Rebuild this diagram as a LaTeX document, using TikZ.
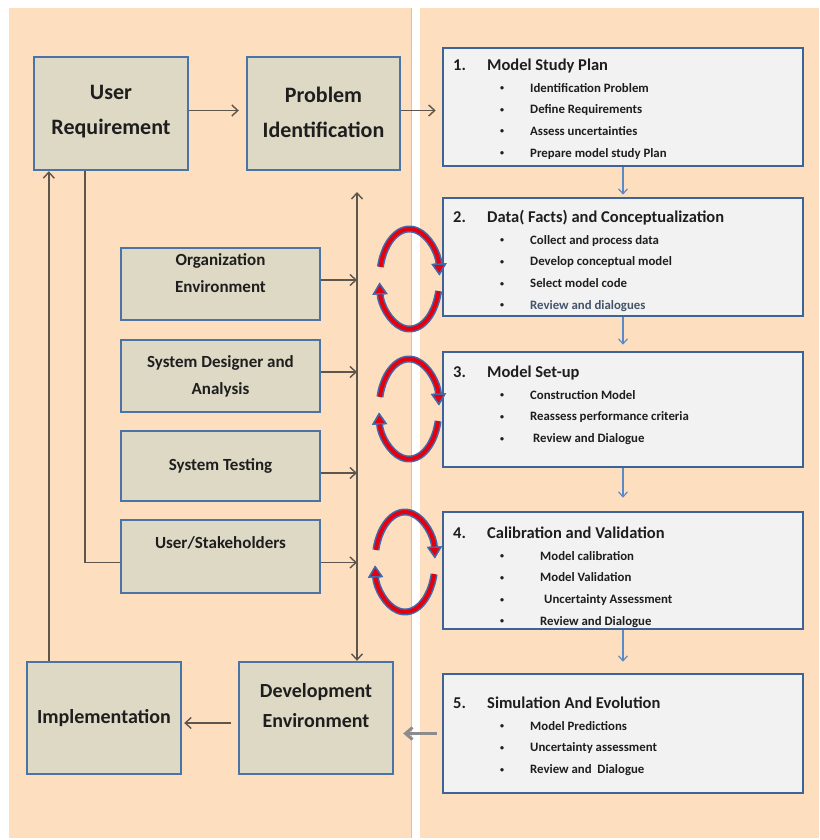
\documentclass[tikz,border=0pt]{standalone}
\usepackage{fontspec}
\setmainfont{Carlito}
\usetikzlibrary{arrows.meta}

\definecolor{panel}{HTML}{FDDFC0}
\definecolor{paneledge}{HTML}{E3BFA0}
\definecolor{boxfill}{HTML}{DDD9C4}
\definecolor{boxline}{HTML}{4A73A6}
\definecolor{stepfill}{HTML}{F2F2F2}
\definecolor{stepline}{HTML}{3D6498}
\definecolor{linkcol}{HTML}{5E554C}
\definecolor{flowcol}{HTML}{5B8AC6}
\definecolor{loopred}{HTML}{E3000F}
\definecolor{loopblue}{HTML}{3F6AAE}
\definecolor{txt}{HTML}{1E1E1E}
\definecolor{softtxt}{HTML}{44546A}

\newcommand{\mtitle}[2]{\fontsize{16.5}{21.7}\selectfont\makebox[34pt][l]{#1}#2}
\newcommand{\mdot}{\raisebox{1.6pt}{\fontsize{8}{8}\selectfont\textbullet}}
\newcommand{\mitem}[2][30pt]{\hspace*{47pt}\makebox[#1][l]{\mdot}#2}

\begin{document}
\begin{tikzpicture}[x=1pt,y=-1pt,
  block/.style={draw=boxline,fill=boxfill,line width=2.4pt,inner sep=0pt},
  bigtext/.style={font={\bfseries\fontsize{22}{35}\selectfont},text=txt,align=center,inner sep=0pt},
  midtext/.style={font={\bfseries\fontsize{20}{30}\selectfont},text=txt,align=center,inner sep=0pt},
  smalltext/.style={font={\bfseries\fontsize{17}{27}\selectfont},text=txt,align=center,inner sep=0pt},
  stage/.style={draw=stepline,fill=stepfill,line width=2.6pt,minimum width=360pt,minimum height=118pt,inner sep=0pt},
  stagetext/.style={font={\bfseries\fontsize{12.8}{21.7}\selectfont},text=txt,inner sep=0pt,anchor=base west},
  link/.style={draw=linkcol,line width=1.4pt},
  flow/.style={draw=flowcol,line width=1.2pt,-{Straight Barb[length=5pt,width=9pt]}},
  >={Straight Barb[length=6pt,width=11pt]}]
			\useasboundingbox (0,0) rectangle (819,840);
			\fill[white] (0,0) rectangle (819,840);
			\fill[panel] (9,8) rectangle (412,838);
			\draw[paneledge,line width=1.5pt] (411.5,8) -- (411.5,838);
			\fill[panel] (420,8) rectangle (819,838);

			% left side
			\node[block,minimum width=154pt,minimum height=113pt] (ureq) at (111,113.5) {};
			\node[block,minimum width=153pt,minimum height=113pt] (preq) at (323.5,113.5) {};
			\node[block,minimum width=199pt,minimum height=72pt] (org) at (220.5,284) {};
			\node[block,minimum width=199pt,minimum height=72pt] (sysd) at (220.5,376) {};
			\node[block,minimum width=199pt,minimum height=70pt] (syst) at (220.5,466) {};
			\node[block,minimum width=199pt,minimum height=73pt] (stake) at (220.5,556.5) {};
			\node[block,minimum width=154pt,minimum height=112pt] (impl) at (104,718) {};
			\node[block,minimum width=154pt,minimum height=112pt] (deve) at (316,718) {};

			\node[bigtext] (ureqt) at (111,112) {User\\Requirement};
			\node[bigtext] (preqt) at (323.5,112) {Problem\\Identification};
			\node[smalltext] (orgt) at (220.5,273) {Organization\\Environment};
			\node[smalltext] (sysdt) at (220.5,376) {System Designer and\\Analysis};
			\node[smalltext] (systt) at (220.5,466) {System Testing};
			\node[smalltext] (staket) at (220.5,543) {User/Stakeholders};
			\node[midtext] (implt) at (104,718) {Implementation};
			\node[midtext] (devet) at (316,706) {Development\\Environment};

			% right side
			\node[stage] (m1) at (623,107) {};
			\node[stage] (m2) at (623,257) {};
			\node[stage,minimum height=115pt] (m3) at (623,409.5) {};
			\node[stage,minimum height=117pt] (m4) at (623,570.5) {};
			\node[stage,minimum height=119pt] (m5) at (623,733.5) {};

			\node[stagetext] (m1t) at (453,70.5) {\begin{tabular}[t]{@{}l@{}}
				\mtitle{1.}{Model Study Plan}\\
				\mitem{Identification Problem}\\
				\mitem{Define Requirements}\\
				\mitem{Assess uncertainties}\\
				\mitem{Prepare model study Plan}
			\end{tabular}};
			\node[stagetext] (m2t) at (453,222.5) {\begin{tabular}[t]{@{}l@{}}
				\mtitle{2.}{Data( Facts) and Conceptualization}\\
				\mitem{Collect and process data}\\
				\mitem{Develop conceptual model}\\
				\mitem{Select model code}\\
				\mitem{\textcolor{softtxt}{Review and dialogues}}
			\end{tabular}};
			\node[stagetext] (m3t) at (453,377.5) {\begin{tabular}[t]{@{}l@{}}
				\mtitle{3.}{Model Set-up}\\
				\mitem{Construction Model}\\
				\mitem{Reassess performance criteria}\\
				\mitem[33pt]{Review and Dialogue}
			\end{tabular}};
			\node[stagetext] (m4t) at (453,538.5) {\begin{tabular}[t]{@{}l@{}}
				\mtitle{4.}{Calibration and Validation}\\
				\mitem[40pt]{Model calibration}\\
				\mitem[40pt]{Model Validation}\\
				\mitem[44pt]{Uncertainty Assessment}\\
				\mitem[40pt]{Review and Dialogue}
			\end{tabular}};
			\node[stagetext] (m5t) at (453,708.5) {\begin{tabular}[t]{@{}l@{}}
				\mtitle{5.}{Simulation And Evolution}\\
				\mitem{Model Predictions}\\
				\mitem{Uncertainty assessment}\\
				\mitem{Review and \ Dialogue}
			\end{tabular}};

			% connectors
			\coordinate (bus) at (357,192);
			\draw[link,->,shorten >=7pt] ([yshift=3pt]ureq.east) -- ([yshift=3pt]preq.west);
			\draw[link,->,shorten >=6pt] ([yshift=3pt]preq.east) -- ([yshift=3pt]preq.east -| m1.west);
			\draw[link,<->] (bus) -- (bus |- deve.north);
			\foreach \b/\dy in {org/4,sysd/4,syst/-7,stake/-6}
				\draw[link,->] ([yshift=\dy pt]\b.east) -- ([yshift=\dy pt]\b.east -| bus);
			\draw[link] ([xshift=52pt]ureq.south west) |- ([yshift=-6pt]stake.west);
			\draw[link,->] ([xshift=23pt]impl.north west) -- ([xshift=23pt]impl.north west |- ureq.south);
			\draw[link,->,shorten <=7pt,shorten >=2pt] ([yshift=-5pt]deve.west) -- ([yshift=-5pt]deve.west -| impl.east);
			\draw[draw=gray!90,line width=3pt,-{Straight Barb[length=7pt,width=12pt]},shorten <=5pt,shorten >=9pt] (m5.west) -- (m5.west -| deve.east);
			\foreach \a/\b/\s in {m1/m2/2,m2/m3/6,m3/m4/13,m4/m5/11}
				\draw[flow,shorten >=\s pt] (\a.south) -- (\b.north);

			% review loops
			\foreach \cx/\cy in {409.5/279,409/409,405/562} {
				\begin{scope}[shift={(\cx,\cy)}]
					\foreach \sa/\ea in {-166/-4,14/176} {
						\draw[loopblue,line width=7pt,-{Triangle[length=12pt,width=15pt,line width=1.4pt,color=loopblue,fill=loopred]}]
							(\sa:30 and 50) arc[start angle=\sa,end angle=\ea,x radius=30,y radius=50];
						\draw[loopred,line width=4pt,-{Triangle[length=12pt,width=15pt,line width=1.4pt,color=loopblue,fill=loopred]}]
							(\sa:30 and 50) arc[start angle=\sa,end angle=\ea,x radius=30,y radius=50];
					}
				\end{scope}
			}
		\end{tikzpicture}
\end{document}
